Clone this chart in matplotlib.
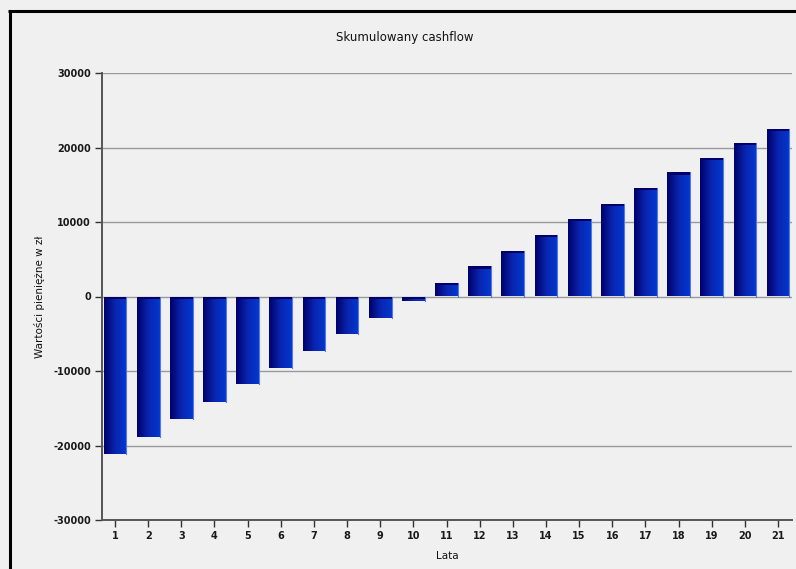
import numpy as np
import matplotlib
matplotlib.use("Agg")
import matplotlib.pyplot as plt
from matplotlib.colors import LinearSegmentedColormap
from matplotlib.lines import Line2D

# Cumulative cashflow per year
years = list(range(1, 22))
cashflow = [-21200, -18850, -16500, -14200, -11800, -9650, -7250, -5050, -2850, -600,
            1850, 4050, 6100, 8300, 10400, 12450, 14550, 16650, 18600, 20650, 22550]
yticks = [-30000, -20000, -10000, 0, 10000, 20000, 30000]

title = "Skumulowany cashflow"
xlabel = "Lata"
ylabel = "Wartości pieniężne w zł"

bg = "#f0f0f0"
plt.rcParams["font.family"] = ["DejaVu Sans"]

fig = plt.figure(figsize=(7.96, 5.69), dpi=100, facecolor=bg)
ax = fig.add_axes([102 / 796, 1 - 520 / 569, 690 / 796, 447 / 569], facecolor=bg)

# Bars with a horizontal dark-to-bright blue gradient
bar_w = 0.685
bars = ax.bar(years, cashflow, width=bar_w, facecolor="none", edgecolor="none", zorder=2)
cmap = LinearSegmentedColormap.from_list("barblue", ["#00006a", "#0a25b0", "#0038d0"])
grad = np.linspace(0, 1, 128).reshape(1, -1)
for rect in bars:
    x0, y0 = rect.get_x(), rect.get_y()
    w, h = rect.get_width(), rect.get_height()
    im = ax.imshow(grad, cmap=cmap, extent=[x0, x0 + w, y0, y0 + h],
                   aspect="auto", zorder=2, interpolation="bilinear")
    im.set_clip_path(rect)
    # thin light edge on the right side
    ax.plot([x0 + w, x0 + w], [y0, y0 + h], color="#5a78dc", lw=0.8, zorder=3)

# dark cap on the upper end of each bar
tops = [max(v, 0) for v in cashflow]
cap_h = 300
ax.bar(years, [cap_h] * len(years), width=bar_w, bottom=[t - cap_h for t in tops],
       color="#000066", edgecolor="none", zorder=4)

ax.set_xlim(0.608, 21.42)
ax.set_ylim(-30000, 30000)
ax.set_xticks(years)
ax.set_xticklabels([str(y) for y in years])
ax.set_yticks(yticks)
ax.set_yticklabels([str(v) for v in yticks])

ax.yaxis.grid(True, color="#9a9a9a", lw=1.0, zorder=1)
ax.set_axisbelow(True)
for s in ("top", "right"):
    ax.spines[s].set_visible(False)
for s in ("left", "bottom"):
    ax.spines[s].set_color("#555555")
    ax.spines[s].set_linewidth(1.4)
    ax.spines[s].set_zorder(5)

ax.tick_params(axis="both", direction="out", length=5, width=1.0, color="#333333",
               labelsize=7, labelcolor="#1a1a1a", pad=3)
for lab in ax.get_xticklabels() + ax.get_yticklabels():
    lab.set_fontweight("bold")

ax.set_xlabel(xlabel, fontsize=7.5, color="#111111", labelpad=7)
ax.set_ylabel(ylabel, fontsize=7.5, color="#111111", labelpad=6)
fig.text(405 / 796, 1 - 37 / 569, title, ha="center", va="center", fontsize=8.5, color="#111111")

# window frame on the left and top
fig.add_artist(Line2D([9.5 / 796, 9.5 / 796], [0, 1 - 10 / 569], transform=fig.transFigure,
                      color="black", lw=2.2, solid_capstyle="butt"))
fig.add_artist(Line2D([8 / 796, 1], [1 - 11 / 569, 1 - 11 / 569], transform=fig.transFigure,
                      color="black", lw=2.2, solid_capstyle="butt"))

fig.savefig("out.png", dpi=100, facecolor=bg)
